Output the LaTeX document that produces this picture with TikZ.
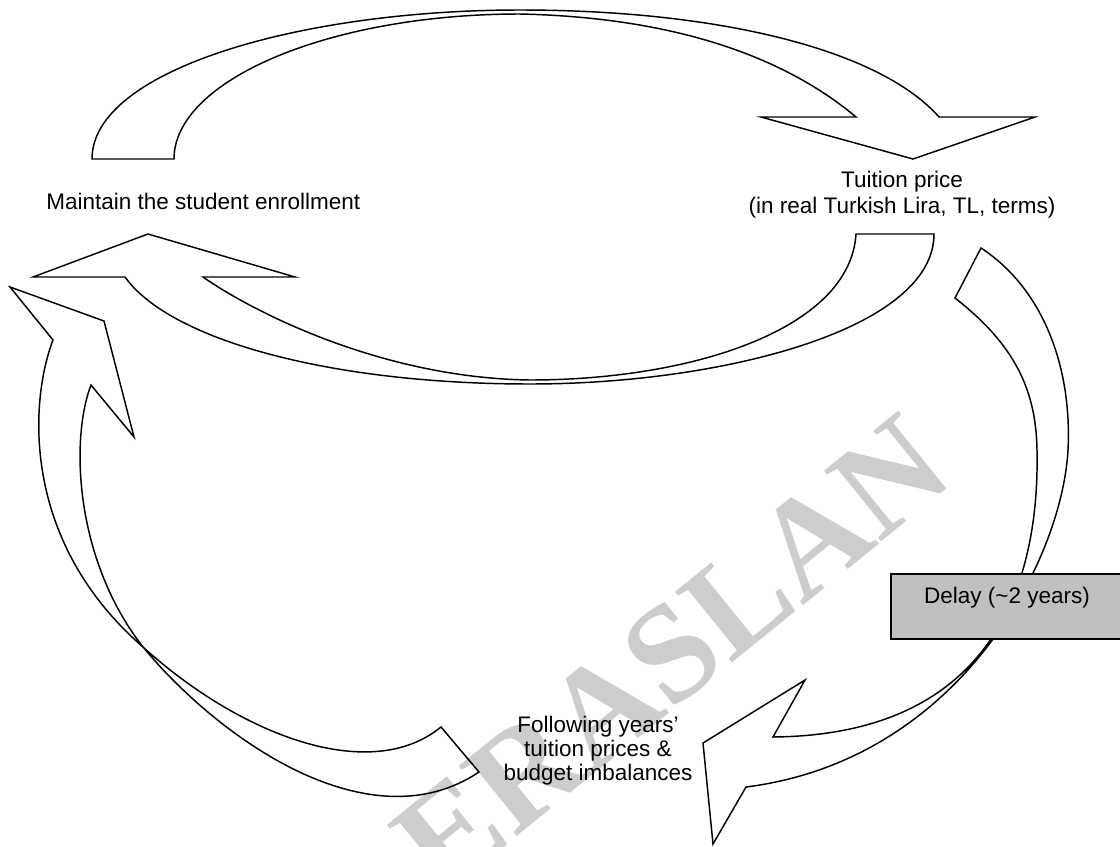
\documentclass[tikz,border=0pt]{standalone}
\usepackage{fontspec}
\setmainfont{Liberation Sans}
\newfontfamily\wmfont{Liberation Serif}
\definecolor{wmgray}{RGB}{205,205,205}
\definecolor{boxgray}{RGB}{192,192,192}
\tikzset{
  blockarrow/.style={draw=black, line width=1.1pt, line join=miter},
  lbl/.style={inner sep=0pt, font=\fontsize{16.875}{19.5}\selectfont},
  lbltight/.style={inner sep=0pt, font=\fontsize{16.875}{18}\selectfont},
  delaybox/.style={draw=black, fill=boxgray, line width=1.1pt},
  watermark/.style={inner sep=0pt, text=wmgray, font=\wmfont\bfseries\fontsize{104}{104}\selectfont}
}
\begin{document}
\begin{tikzpicture}[x=0.75pt,y=-0.75pt]
\useasboundingbox (0,0) rectangle (1120,846);

% watermark
\node[watermark, anchor=base east, rotate=39] (wm) at (958,480) {ERASLAN};

% top arrow: Maintain -> Tuition price
\draw[blockarrow] (92,159) .. controls (92,70) and (300,10) .. (520,10)
  .. controls (720,10) and (880,50) .. (939,117)
  -- (1035,117) -- (913,159) -- (761,117) -- (856,117)
  .. controls (800,70) and (700,18) .. (520,14)
  .. controls (330,14) and (174,80) .. (174,159) -- cycle;

% lower arrow: Tuition price -> Maintain
\draw[blockarrow] (934,234) .. controls (934,330) and (720,384) .. (530,384)
  .. controls (330,384) and (170,340) .. (125,277)
  -- (33,277) -- (148,234) -- (295,277) -- (203,277)
  .. controls (250,310) and (380,378) .. (530,380)
  .. controls (690,380) and (850,330) .. (856,234) -- cycle;

% left arrow: Following years -> Maintain
\draw[blockarrow] (10,287) -- (104,321) -- (134,437) -- (91,385)
  .. controls (70,440) and (75,560) .. (143,647)
  .. controls (220,740) and (370,845) .. (479,772)
  -- (441,727)
  .. controls (370,785) and (240,735) .. (143,647)
  .. controls (20,540) and (30,400) .. (53,340) -- cycle;

% right arrow: Tuition price -> Following years (through delay)
\draw[blockarrow] (981,248) .. controls (1045,290) and (1072,370) .. (1068,450)
  .. controls (1062,560) and (960,760) .. (746,787)
  -- (713,844) -- (703,743) -- (805,680) -- (773,737)
  .. controls (980,735) and (1040,600) .. (1037,450)
  .. controls (1036,390) and (1015,345) .. (955,298) -- cycle;

% delay box
\draw[delaybox] (891,574) rectangle (1130,639);
\node[lbl, anchor=base] (delay) at (1007,603) {Delay (\textasciitilde2 years)};

% labels
\node[lbl, anchor=base west] (maintain) at (46,209) {Maintain the student enrollment};
\node[lbl, anchor=base] (tuition) at (902,187)
  {\begin{tabular}[t]{@{}c@{}}Tuition price\\(in real Turkish Lira, TL, terms)\end{tabular}};
\node[lbltight, anchor=base] (following) at (598,732)
  {\begin{tabular}[t]{@{}c@{}}Following years’\\tuition prices \&\\budget imbalances\end{tabular}};
\end{tikzpicture}
\end{document}
